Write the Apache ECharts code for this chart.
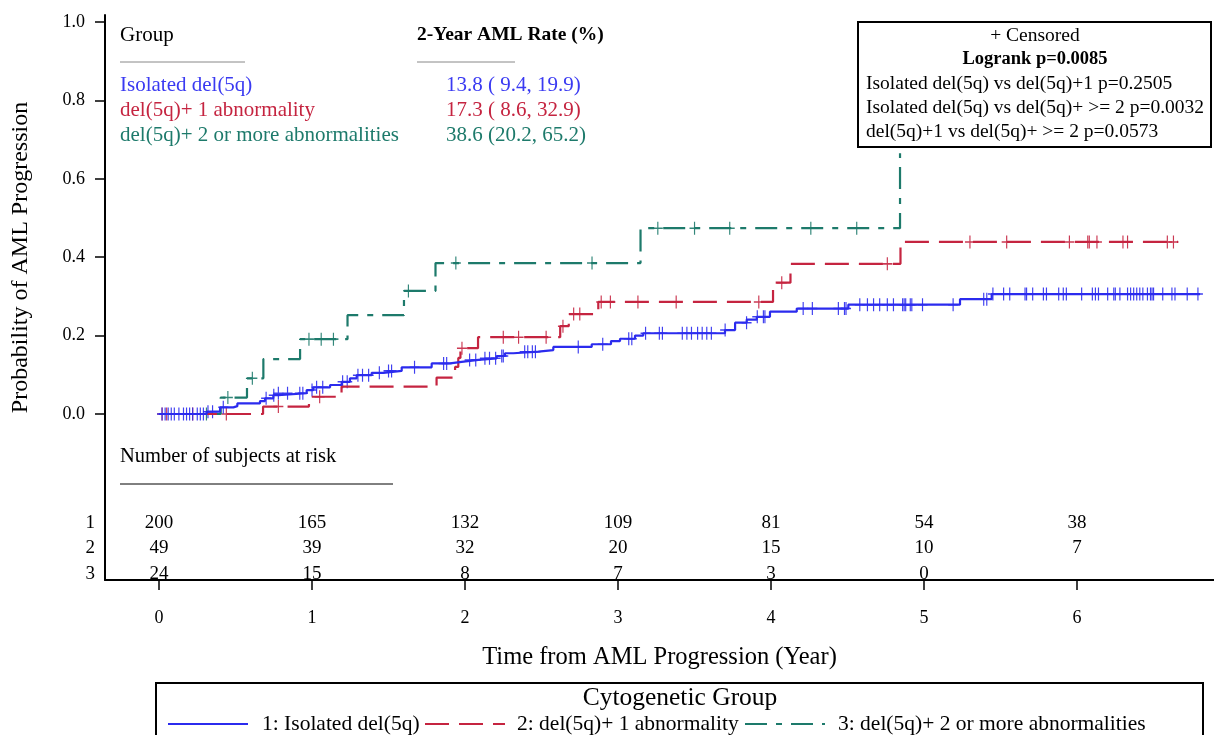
<!DOCTYPE html>
<html><head><meta charset="utf-8">
<script src="https://cdn.jsdelivr.net/npm/echarts@6/dist/echarts.min.js"></script>
<style>html,body{margin:0;padding:0;background:#fff}#c{width:1214px;height:735px}</style>
</head><body><div id="c"></div>
<script>
// ---------------- data ----------------
const years = [0, 1, 2, 3, 4, 5, 6];
const yTicks = [0, 0.2, 0.4, 0.6, 0.8, 1.0];
const riskRows = [1, 2, 3];
const atRisk1 = [200, 165, 132, 109, 81, 54, 38];
const atRisk2 = [49, 39, 32, 20, 15, 10, 7];
const atRisk3 = [24, 15, 8, 7, 3, 0, null];

// Group 1: Isolated del(5q) (step times / cumulative probability)
const isoT = [0, 0.312, 0.399, 0.486, 0.512, 0.66, 0.693, 0.747, 0.78, 0.965, 1.008, 1.118, 1.194, 1.248, 1.292, 1.39, 1.466, 1.586, 1.782, 1.902, 1.978, 2.087, 2.207, 2.261, 2.316, 2.479, 2.577, 2.828, 2.954, 3.013, 3.111, 3.165, 3.699, 3.765, 3.841, 3.907, 3.993, 4.168, 4.505, 5.235, 5.442, 6.804];
const isoP = [0, 0.006, 0.017, 0.02, 0.027, 0.033, 0.04, 0.048, 0.053, 0.061, 0.068, 0.074, 0.082, 0.091, 0.099, 0.105, 0.11, 0.119, 0.129, 0.133, 0.138, 0.142, 0.148, 0.155, 0.159, 0.163, 0.171, 0.178, 0.186, 0.192, 0.2, 0.206, 0.214, 0.233, 0.241, 0.248, 0.261, 0.269, 0.279, 0.293, 0.306, 0.306];
const isoCens = [0.02, 0.04, 0.06, 0.08, 0.10, 0.13, 0.16, 0.18, 0.20, 0.22, 0.25, 0.27, 0.29, 0.32, 0.35, 0.42, 0.70, 0.75, 0.78, 0.84, 0.92, 0.94, 1.00, 1.03, 1.07, 1.20, 1.23, 1.30, 1.33, 1.37, 1.44, 1.50, 1.52, 1.67, 1.86, 1.88, 2.03, 2.07, 2.13, 2.16, 2.20, 2.24, 2.25, 2.39, 2.41, 2.44, 2.46, 2.74, 2.90, 3.07, 3.09, 3.18, 3.27, 3.29, 3.42, 3.45, 3.48, 3.52, 3.55, 3.58, 3.61, 3.70, 3.84, 3.91, 3.95, 3.96, 4.21, 4.27, 4.44, 4.48, 4.49, 4.58, 4.63, 4.67, 4.71, 4.76, 4.80, 4.86, 4.87, 4.88, 4.91, 4.92, 4.99, 5.19, 5.39, 5.41, 5.45, 5.52, 5.56, 5.66, 5.67, 5.71, 5.78, 5.80, 5.88, 5.91, 5.93, 6.03, 6.10, 6.12, 6.14, 6.20, 6.24, 6.25, 6.28, 6.33, 6.35, 6.37, 6.39, 6.41, 6.43, 6.46, 6.48, 6.49, 6.50, 6.56, 6.62, 6.64, 6.72, 6.79];

// Group 2: del(5q)+1 abnormality
const oneT = [0, 0.68, 0.98, 1.193, 1.814, 1.935, 1.956, 1.97, 2.085, 2.622, 2.678, 2.871, 4.013, 4.127, 4.846, 6.66];
const oneP = [0, 0.019, 0.044, 0.07, 0.093, 0.12, 0.143, 0.168, 0.196, 0.224, 0.255, 0.286, 0.335, 0.383, 0.439, 0.439];
const oneCens = [0.02, 0.05, 0.22, 0.44, 0.78, 1.05, 1.98, 2.25, 2.35, 2.53, 2.64, 2.71, 2.75, 2.89, 2.95, 3.13, 3.38, 3.92, 4.07, 4.76, 5.30, 5.54, 5.95, 6.07, 6.08, 6.13, 6.30, 6.33, 6.59, 6.63];

// Group 3: del(5q)+2 or more abnormalities
const twoT = [0, 0.403, 0.575, 0.682, 0.922, 1.232, 1.601, 1.807, 3.147, 4.843];
const twoP = [0, 0.042, 0.091, 0.14, 0.191, 0.252, 0.314, 0.385, 0.474, 0.665];
const twoCens = [0.31, 0.45, 0.61, 0.98, 1.06, 1.14, 1.63, 1.94, 2.83, 3.26, 3.50, 3.73, 4.26, 4.56];

const groupNames = ['Isolated del(5q)', 'del(5q)+ 1 abnormality', 'del(5q)+ 2 or more abnormalities'];
const aml2yr = ['13.8 ( 9.4, 19.9)', '17.3 ( 8.6, 32.9)', '38.6 (20.2, 65.2)'];
const legendNames = ['1: Isolated del(5q)', '2: del(5q)+ 1 abnormality', '3: del(5q)+ 2 or more abnormalities'];
const pTitle = ['+ Censored', 'Logrank p=0.0085'];
const pLines = ['Isolated del(5q) vs del(5q)+1 p=0.2505', 'Isolated del(5q) vs del(5q)+ >= 2 p=0.0032', 'del(5q)+1 vs del(5q)+ >= 2 p=0.0573'];

// ---------------- styling ----------------
const FONT = '"Liberation Serif", "Times New Roman", serif';
const C_BLUE = '#2b2bee', C_RED = '#c52440', C_TEAL = '#1d7a6b';
const TXT_BLUE = '#3a3af2';
const colors = [C_BLUE, C_RED, C_TEAL];
const dashes = ['solid', [24, 10], [22, 9, 6, 9]];
const PLUS = 'path://M-0.7,-6H0.7V-0.7H6V0.7H0.7V6H-0.7V0.7H-6V-0.7H-0.7Z';

function zip(t, p) { return t.map((v, i) => [v, p[i]]); }
function valueAt(t, p, x) { let v = p[0]; for (let i = 0; i < t.length; i++) { if (t[i] <= x) v = p[i]; } return v; }
function censPts(t, p, c) { return c.map(x => [x, valueAt(t, p, x)]); }

const curves = [[isoT, isoP, isoCens], [oneT, oneP, oneCens], [twoT, twoP, twoCens]];
const atRisk = [atRisk1, atRisk2, atRisk3];

const series = [];
[2, 1, 0].forEach(g => {
  const [t, p, c] = curves[g];
  series.push({
    type: 'line', xAxisIndex: 0, yAxisIndex: 0, step: 'end', symbol: 'none',
    data: zip(t, p), silent: true,
    lineStyle: { color: colors[g], width: 2.2, type: dashes[g] }
  });
  series.push({
    type: 'scatter', xAxisIndex: 0, yAxisIndex: 0, symbol: PLUS, symbolSize: [10, 13],
    data: censPts(t, p, c), silent: true,
    itemStyle: { color: colors[g], opacity: 0.9 }
  });
});
const riskData = [];
atRisk.forEach((arr, g) => arr.forEach((n, i) => { if (n !== null) riskData.push([years[i], riskRows[g], n]); }));
series.push({
  type: 'custom', xAxisIndex: 1, yAxisIndex: 1, data: riskData, silent: true, z: 5,
  renderItem: (params, api) => {
    const pt = api.coord([api.value(0), api.value(1)]);
    return { type: 'text', style: { text: String(api.value(2)), x: pt[0], y: pt[1], fill: '#000', font: `19px ${FONT}`, align: 'center', verticalAlign: 'middle' } };
  }
});

const axisLine = { show: true, onZero: false, lineStyle: { color: '#000', width: 2 } };
const lblStyle = { color: '#000', fontFamily: FONT, fontSize: 18 };

// ---------------- graphics ----------------
const T = (text, x, y, o = {}) => ({
  type: 'text', z: 100,
  style: Object.assign({ text, x, y, fill: '#000', font: `${o.size || 21}px ${FONT}`, textAlign: o.align || 'left', align: o.align || 'left', textVerticalAlign: 'middle', verticalAlign: 'middle' }, o.style || {})
});
const L = (x1, y1, x2, y2, stroke, w, dash) => ({
  type: 'line', z: 100, shape: { x1, y1, x2, y2 },
  style: { stroke, lineWidth: w, lineDash: dash || null }
});

const gfx = [];
gfx.push(T('Group', 120, 35));
gfx.push(T('2-Year AML Rate (%)', 417, 35, { style: { font: `bold 19.5px ${FONT}` } }));
gfx.push(L(120, 62, 245, 62, '#888', 1));
gfx.push(L(417, 62, 515, 62, '#888', 1));
const txtColors = [TXT_BLUE, C_RED, C_TEAL];
groupNames.forEach((n, i) => {
  gfx.push(T(n, 120, 85 + 25 * i, { style: { fill: txtColors[i] } }));
  gfx.push(T(aml2yr[i], 446, 85 + 25 * i, { style: { fill: txtColors[i] } }));
});
gfx.push(T('Number of subjects at risk', 120, 457, { size: 20.5 }));
gfx.push(L(120, 484, 393, 484, '#000', 1));
gfx.push({ type: 'rect', z: 99, shape: { x: 858, y: 22, width: 353, height: 125 }, style: { fill: '#fff', stroke: '#000', lineWidth: 2 } });
gfx.push(T(pTitle[0], 1035, 36, { align: 'center', size: 19.5 }));
gfx.push(T(pTitle[1], 1035, 59, { align: 'center', style: { font: `bold 18.5px ${FONT}` } }));
pLines.forEach((s, i) => gfx.push(T(s, 866, 84 + 24 * i, { size: 19.5 })));
gfx.push({ type: 'rect', z: 99, shape: { x: 156, y: 683, width: 1047, height: 70 }, style: { fill: '#fff', stroke: '#000', lineWidth: 2 } });
gfx.push(T('Cytogenetic Group', 680, 698, { align: 'center', size: 25.5 }));
const legX = [[168, 248, 262], [425, 505, 517], [745, 825, 838]];
legendNames.forEach((n, i) => {
  gfx.push(L(legX[i][0], 724, legX[i][1], 724, colors[i], 2.2, i === 0 ? null : dashes[i]));
  gfx.push(T(n, legX[i][2], 724, { size: 21.5 }));
});

const option = {
  animation: false,
  backgroundColor: '#fff',
  grid: [
    { left: 105, top: 15, width: 1109, height: 485 },
    { left: 105, top: 500, width: 1109, height: 80 }
  ],
  xAxis: [
    { gridIndex: 0, type: 'value', min: -0.353, max: 6.895, axisLine: { show: false }, axisTick: { show: false }, axisLabel: { show: false }, splitLine: { show: false } },
    { gridIndex: 1, type: 'value', min: -0.353, max: 6.895, axisLine,
      axisTick: { show: true, length: 10, customValues: years, lineStyle: { color: '#000', width: 1.5 } },
      axisLabel: Object.assign({ customValues: years, margin: 29 }, lblStyle),
      splitLine: { show: false },
      name: 'Time from AML Progression (Year)', nameLocation: 'middle', nameGap: 65,
      nameTextStyle: { color: '#000', fontFamily: FONT, fontSize: 24.5 } }
  ],
  yAxis: [
    { gridIndex: 0, type: 'value', min: -0.2194, max: 1.0179, axisLine,
      axisTick: { show: true, length: 10, customValues: yTicks, lineStyle: { color: '#000', width: 1.5 } },
      axisLabel: Object.assign({ customValues: yTicks, margin: 20, formatter: v => Number(v).toFixed(1) }, lblStyle),
      splitLine: { show: false },
      name: 'Probability of AML Progression', nameLocation: 'middle', nameGap: 72,
      nameTextStyle: { color: '#000', fontFamily: FONT, fontSize: 24 } },
    { gridIndex: 1, type: 'value', inverse: true, min: 0.098, max: 3.235, axisLine,
      axisTick: { show: false },
      axisLabel: Object.assign({ customValues: riskRows, margin: 10 }, lblStyle, { fontSize: 19 }),
      splitLine: { show: false } }
  ],
  series,
  graphic: gfx
};
const chart = echarts.init(document.getElementById('c'), null, { renderer: 'canvas' });
chart.setOption(option);
</script></body></html>
